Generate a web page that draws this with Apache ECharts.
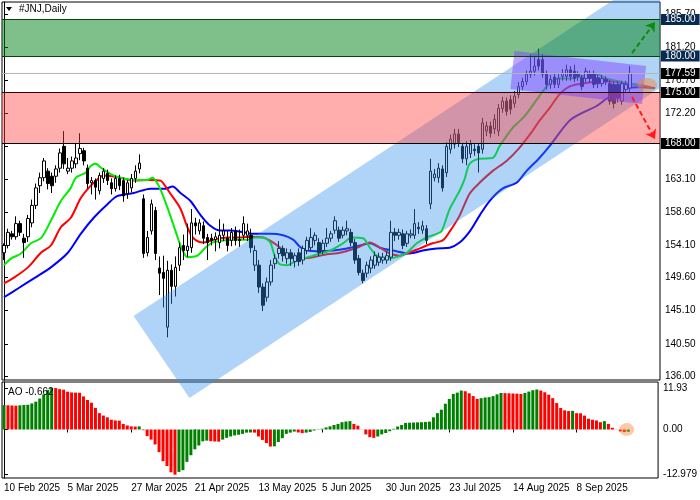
<!DOCTYPE html>
<html><head><meta charset="utf-8">
<script src="https://cdn.jsdelivr.net/npm/echarts@6/dist/echarts.min.js"></script>
<style>html,body{margin:0;padding:0;background:#fff}#c{width:700px;height:500px}</style>
</head><body><div id="c"></div>
<script>
const FONT = "'Liberation Sans',Arial,sans-serif";
const FS = 10;

// ---------- data ----------
const startDate = '2025-02-10';
const holidays = ['2025-02-17','2025-04-18','2025-05-26','2025-06-19','2025-07-04','2025-09-01'];
const slotCount = 165;           // trading-day slots on the time axis (incl. empty future slots)
const labelStep = 16;            // a date label every 16 bars
const lastLabelIndex = 144;

const priceTicks = [136.00,140.50,145.10,149.60,154.10,158.60,163.10,167.60,172.20,176.70,181.20,185.70];
const aoTickValues = [11.93, 0, -12.979];
const aoTickLabels = ['11.93','0.00','-12.979'];
const levelValues = [185.00, 180.00, 177.59, 175.00, 168.00];
const greenZone = [180.00, 185.00];
const redZone = [168.00, 175.00];

// [open, close, low, high]
const candles = [
[153.0,154.0,152.0,154.3],[154.0,155.8,153.6,156.3],[155.6,155.2,154.8,156.0],[155.2,157.0,154.8,158.0],[157.0,155.8,155.3,157.4],
[155.0,154.4,152.3,155.6],[155.2,157.7,154.5,158.2],[157.1,159.5,156.5,160.3],[159.5,161.9,159.0,162.5],[162.2,163.3,161.2,164.0],
[163.3,165.6,162.8,166.0],[164.2,162.5,161.7,164.6],[163.5,162.2,161.2,164.0],[163.5,164.5,162.6,165.0],[164.6,166.7,164.0,167.3],
[167.6,165.2,164.5,169.7],[164.2,164.6,163.8,166.0],[164.6,165.6,164.0,166.2],[165.2,166.0,164.6,168.0],[166.6,167.3,165.7,169.4],
[167.0,165.6,165.0,167.4],[164.6,162.5,161.8,165.1],[162.6,162.9,161.0,163.4],[162.9,162.0,160.3,163.2],[161.5,163.6,161.0,164.0],
[163.2,164.2,162.6,164.6],[163.9,162.9,162.3,164.4],[162.6,161.8,161.0,163.2],[161.8,163.2,161.4,163.6],[163.2,162.2,161.6,163.7],
[162.9,160.8,160.0,163.3],[161.1,162.6,160.4,163.0],[161.9,163.2,161.3,163.8],[163.2,164.2,162.6,165.0],[164.5,165.3,163.9,166.5],
[160.4,152.9,152.3,161.0],[153.0,155.1,152.5,156.0],[156.0,159.7,155.5,160.3],[158.8,152.9,152.0,159.3],[150.9,150.2,147.2,152.5],
[150.3,149.5,145.5,152.6],[142.8,150.6,141.4,151.9],[150.6,148.4,146.0,151.4],[148.4,151.0,147.0,152.5],[151.3,153.7,150.5,154.4],
[154.0,153.3,152.0,155.5],[153.3,153.9,152.4,157.0],[153.7,157.1,153.0,159.0],[157.1,156.7,155.5,157.8],[156.0,157.1,155.5,157.6],
[156.7,155.0,154.2,157.3],[155.1,154.4,152.0,155.6],[155.0,154.7,154.0,155.6],[154.8,155.2,153.2,155.8],[154.4,155.4,153.6,157.6],
[155.4,156.0,154.6,157.0],[155.0,154.0,153.2,156.0],[154.7,155.8,153.9,156.4],[156.0,154.7,154.0,156.6],[154.8,154.7,153.8,156.2],
[155.4,157.0,154.8,158.0],[155.4,156.0,154.6,157.0],[155.4,153.7,153.0,156.3],[151.3,153.3,150.5,154.0],[151.3,148.3,147.5,152.0],
[148.3,145.8,145.0,148.8],[146.9,149.0,146.3,149.6],[149.0,151.3,148.5,152.0],[151.5,152.2,150.8,152.8],[152.9,153.6,152.2,154.6],
[153.6,152.6,151.8,154.0],[152.2,153.0,151.5,153.6],[153.0,152.2,151.2,153.5],[151.8,152.6,151.0,153.0],[153.0,151.8,151.2,153.6],
[152.0,153.6,151.4,154.0],[153.3,154.7,152.8,155.2],[153.7,155.1,153.2,156.4],[154.7,155.4,154.0,155.8],[154.4,153.0,152.5,155.0],
[153.3,154.3,152.8,154.8],[154.3,155.0,153.8,156.4],[155.0,155.6,154.5,156.0],[156.1,157.4,155.6,158.0],[156.1,155.0,154.5,156.6],
[155.4,156.1,155.0,156.6],[156.0,156.3,155.4,157.4],[155.8,154.4,153.9,156.3],[154.4,152.0,151.5,154.9],[152.2,150.3,149.9,152.7],
[150.2,149.2,148.8,150.7],[150.2,151.3,149.6,151.8],[150.9,152.0,150.2,152.5],[151.3,152.6,150.8,153.2],[151.7,152.4,151.2,153.0],
[152.0,152.4,151.5,153.0],[152.0,152.6,151.5,153.2],[152.4,155.8,151.9,157.4],[155.8,155.4,154.6,156.4],[155.4,155.8,154.8,156.3],
[155.6,154.0,153.5,156.2],[154.3,155.6,153.8,156.0],[155.4,155.6,155.0,156.2],[155.4,157.0,154.9,159.0],[156.5,156.3,155.6,157.2],
[156.1,156.7,155.6,157.4],[156.3,154.7,154.2,156.8],[159.7,164.2,159.0,165.9],[163.3,163.8,162.8,164.5],[163.3,164.6,162.6,165.3],
[164.5,161.9,161.4,165.0],[164.0,167.6,163.4,168.2],[167.2,168.6,166.6,169.2],[167.9,169.3,167.3,170.0],[169.3,168.1,167.5,170.0],
[167.6,165.9,165.3,168.0],[165.9,167.6,165.0,168.3],[166.6,167.9,166.0,168.5],[167.2,167.0,166.3,167.9],[167.6,166.7,164.0,168.0],
[167.2,170.8,166.6,171.5],[169.7,170.4,169.0,171.0],[170.4,169.4,168.8,171.0],[170.0,171.3,169.3,172.0],[169.7,172.8,169.0,173.4],
[172.8,173.8,172.2,174.4],[173.8,172.4,171.8,174.3],[174.0,172.7,172.0,174.6],[173.5,174.5,172.9,175.2],[174.7,175.8,174.2,176.4],
[175.8,176.5,175.3,177.0],[176.5,177.5,176.0,178.0],[177.5,177.9,177.0,180.2],[177.9,178.6,177.3,180.0],[179.5,178.6,178.0,181.0],
[179.5,177.5,177.0,180.2],[177.5,176.1,175.4,178.0],[176.1,176.8,175.5,177.4],[177.1,176.1,175.6,177.6],[176.1,176.9,175.6,177.5],
[177.2,177.6,176.6,178.2],[177.2,178.1,176.6,178.8],[178.1,177.2,176.6,178.6],[177.9,176.9,176.4,178.8],[177.5,177.2,176.6,177.9],
[177.0,175.8,175.3,177.4],[176.9,177.9,176.4,178.4],[177.6,176.9,176.3,178.0],[177.6,176.1,175.6,178.0],[177.0,176.2,175.6,177.4],
[176.2,176.9,175.8,177.4],[176.8,176.5,176.0,177.2],[176.2,173.8,173.3,176.7],[176.1,173.5,172.8,176.5],[176.1,174.2,173.6,176.6],
[173.8,176.2,173.3,176.6],[175.4,176.1,174.9,176.6],[175.6,177.6,175.1,178.6]
];

// Alligator lines: [bar position, price]
const jawLine = [[0,146.9],[3.5,148.1],[7.5,149.5],[11.75,151.0],[16,153.0],[19.25,155.6],[22.5,157.8],[26,159.7],[28.5,160.8],[32.5,161.2],[36.75,161.8],[40.5,161.8],[42.25,162.1],[44.25,161.2],[46.75,160.1],[49.25,158.2],[51.75,156.7],[54.25,156.05],[56.75,156.05],[59.25,155.9],[62.5,155.6],[66.75,155.6],[70,155.4],[72.5,154.8],[74.25,153.8],[76,153.3],[79.25,153.2],[82.5,153.3],[86,153.6],[89.25,154.0],[91.75,154.3],[94.25,153.7],[97.5,153.3],[101.75,152.9],[105,153.3],[108.5,153.6],[111.75,153.7],[114.25,154.4],[116.75,155.9],[119.25,158.1],[121.75,160.1],[125,161.8],[128.5,162.6],[131,164.2],[134.25,166.0],[136.75,167.6],[141.75,171.1],[145,172.2],[148.5,173.1],[151,174.1],[153.5,174.9],[156,175.6],[159.25,175.7],[163.25,175.6]];
const teethLine = [[0,148.8],[2.5,149.6],[6,151.0],[9.25,153.0],[11.75,154.0],[14.25,156.5],[16.75,157.8],[19.25,160.5],[21.25,161.9],[23.5,163.1],[25,163.6],[29.25,163.3],[32.5,162.9],[36.75,163.0],[39.25,162.9],[40.5,162.1],[41.75,161.1],[44.25,159.05],[46,156.5],[47.5,155.0],[50,154.4],[52.5,154.8],[56,155.1],[59.25,155.1],[62.5,155.2],[65,155.1],[67.5,154.4],[69.25,153.7],[71.25,152.5],[73.5,152.2],[77.5,152.4],[81,152.8],[84.25,153.0],[88.5,153.7],[91.75,154.4],[94.25,153.7],[96.75,152.9],[99.25,152.6],[101,152.9],[104.25,153.6],[107.5,154.3],[110,154.7],[111.75,155.9],[114.25,158.1],[116.75,161.1],[119.25,162.6],[122.5,164.2],[126,165.6],[129.25,167.4],[132.5,169.7],[134.25,171.1],[136.75,172.8],[139.25,174.7],[141.75,175.8],[145,176.2],[149.25,176.5],[152.5,176.5],[156,176.2],[159.25,176.0],[162.25,175.7]];
const lipsLine = [[0,151.3],[1.75,152.2],[4.25,152.9],[6.75,154.3],[9.25,155.0],[11.75,157.4],[14.25,160.1],[16.75,161.9],[18,163.3],[20.5,164.0],[21.75,164.9],[23,165.2],[24.25,164.7],[26.75,163.8],[29.25,163.3],[32.5,163.0],[36,163.0],[37.25,163.3],[38.5,162.5],[39.75,161.0],[41.5,158.4],[43.25,155.6],[44.5,153.7],[46,152.4],[48.5,152.6],[50.5,153.7],[52.25,154.4],[55,154.7],[58.5,154.8],[61,154.8],[63,155.1],[65,155.1],[66.75,154.4],[68,152.4],[69.25,151.4],[71,151.3],[73.5,152.0],[75,152.2],[77.5,152.6],[81.75,153.3],[85,154.3],[87.25,155.1],[90,155.0],[91.75,153.7],[93.5,152.6],[96,152.2],[98.5,152.4],[101,153.0],[103.5,154.3],[106,155.1],[108.5,155.6],[109.75,156.0],[111.75,159.0],[114.25,161.5],[115.5,163.1],[116.75,165.2],[119.25,165.9],[122.5,166.0],[124.25,167.6],[127.5,170.1],[130.5,171.7],[134.25,174.5],[136.75,176.2],[139.25,176.9],[141.75,176.9],[145,177.2],[148.5,177.5],[151,176.9],[154.25,176.5],[156.75,176.2],[160,176.0]];

// Awesome Oscillator
const ao = [7.0,6.95,6.9,6.85,6.95,7.05,7.1,7.5,8.0,8.9,10.1,11.4,11.93,
11.9,11.6,11.45,10.85,10.65,10.6,10.55,9.5,8.5,7.7,6.2,4.7,4.0,3.5,2.8,2.6,2.55,1.6,1.15,0.9,0.85,
0.9,
-0.2,-1.9,-2.9,-4.3,-6.5,-9.1,-10.5,-12.3,-12.979,
-12.2,-11.7,-9.3,-7.4,-5.7,-4.6,-3.4,-3.2,
-3.35,-3.45,-3.5,
-2.9,-2.4,-2.0,-1.7,-1.5,-1.25,-0.9,-0.85,
-0.9,-2.0,-3.0,-3.9,-4.9,
-4.85,-3.6,-2.5,-1.25,-0.9,-0.6,
-0.85,-1.05,
-0.9,-0.7,-0.3,-0.1,0.2,0.6,0.9,1.3,1.6,2.1,2.3,2.4,
1.6,1.1,-0.05,-1.4,-2.2,-2.4,
-2.0,-1.4,-1.0,-0.5,0.2,0.85,1.3,1.9,1.95,2.0,2.05,2.1,2.15,2.25,3.5,4.7,5.7,7.4,8.8,10.2,10.6,11.2,
11.0,10.4,9.6,8.8,
9.0,9.2,9.3,9.6,10.1,10.5,
10.45,10.4,10.35,10.3,10.2,
10.5,10.9,11.3,11.5,
11.2,10.7,10.0,9.0,7.6,6.2,5.5,5.3,
5.35,
4.7,4.65,4.0,3.1,2.8,2.6,2.1,
2.4,
1.6,0.5,-0.05,-0.55,-0.75,
-0.662];

// drawn objects, in [bar position, price] units
const channelCorners = [[32.5,144.32],[46.5,133.08],[221.5,196.2],[207.5,207.4]];
const flagCorners = [[128,180.67],[161,178.62],[160,173.40],[127,175.46]];
const upArrow = [[157.5,180.4],[163.25,184.65]];
const downArrow = [[157.5,174.36],[163.25,168.6]];
const priceEllipseCenter = [161.3,176.0];
const aoEllipseCenter = [156.6,0];

// ---------- helpers ----------
function buildDates(start, n, hol) {
  const M = ['Jan','Feb','Mar','Apr','May','Jun','Jul','Aug','Sep','Oct','Nov','Dec'];
  const out = []; const d = new Date(start + 'T00:00:00Z');
  while (out.length < n) {
    const wd = d.getUTCDay(); const iso = d.toISOString().slice(0,10);
    if (wd !== 0 && wd !== 6 && hol.indexOf(iso) < 0) out.push(d.getUTCDate() + ' ' + M[d.getUTCMonth()] + ' ' + d.getUTCFullYear());
    d.setUTCDate(d.getUTCDate() + 1);
  }
  return out;
}
const dates = buildDates(startDate, slotCount, holidays);
const showLabel = (idx) => idx % labelStep === 0 && idx <= lastLabelIndex;

function clipRight(pts, xr) {
  const out = [];
  for (let k = 0; k < pts.length; k++) {
    const a = pts[k], b = pts[(k + 1) % pts.length];
    const ina = a[0] <= xr, inb = b[0] <= xr;
    if (ina) out.push(a);
    if (ina !== inb) { const t = (xr - a[0]) / (b[0] - a[0]); out.push([xr, a[1] + t * (b[1] - a[1])]); }
  }
  return out;
}

const levelStyles = [
  {line:'#0b3f0b', box:'#072a4e'},
  {line:'#0b3f0b', box:'#072a4e'},
  {line:'#b4b4b4', box:'#000000'},
  {line:'#3a0000', box:'#000000'},
  {line:'#000000', box:'#000000'}
];
const zoneFills = ['rgba(0,128,20,0.5)', 'rgba(255,60,60,0.42)'];

const chart = echarts.init(document.getElementById('c'), null, {renderer:'canvas'});
const option = {
  animation: false,
  backgroundColor: '#fff',
  textStyle: {fontFamily: FONT},
  grid: [
    {left: 2, right: 40, top: 2, height: 378, show: true, borderColor: '#000', borderWidth: 1, backgroundColor: 'transparent'},
    {left: 2, right: 40, top: 382, height: 96, show: true, borderColor: '#000', borderWidth: 1, backgroundColor: 'transparent'}
  ],
  xAxis: [
    {type: 'category', gridIndex: 0, data: dates, show: false, boundaryGap: true},
    {type: 'value', gridIndex: 0, min: -0.5, max: slotCount - 0.5, show: false},
    {type: 'category', gridIndex: 1, data: dates, boundaryGap: true,
      axisLine: {show: false},
      axisTick: {show: true, alignWithLabel: true, interval: showLabel, length: 3, lineStyle: {color: '#000'}},
      axisLabel: {interval: showLabel, align: 'left', color: '#000', fontFamily: FONT, fontSize: FS, margin: 5},
      splitLine: {show: false}},
    {type: 'value', gridIndex: 1, min: -0.5, max: slotCount - 0.5, show: false}
  ],
  yAxis: [
    {type: 'value', gridIndex: 0, position: 'right', min: 135.55, max: 187.40,
      axisLine: {show: true, lineStyle: {color: '#000'}},
      axisTick: {show: true, length: 4, customValues: priceTicks, lineStyle: {color: '#000'}},
      axisLabel: {customValues: priceTicks, formatter: v => v.toFixed(2), color: '#000', fontFamily: FONT, fontSize: FS, margin: 5},
      splitLine: {show: false}},
    {type: 'value', gridIndex: 1, position: 'right', min: -13.94, max: 13.65,
      axisLine: {show: true, lineStyle: {color: '#000'}},
      axisTick: {show: true, length: 4, customValues: aoTickValues, lineStyle: {color: '#000'}},
      axisLabel: {customValues: aoTickValues, formatter: v => { const k = aoTickValues.findIndex(t => Math.abs(t - v) < 1e-6); return k >= 0 ? aoTickLabels[k] : ''; }, color: '#000', fontFamily: FONT, fontSize: FS, margin: 5},
      splitLine: {show: false}}
  ],
  graphic: [
    {type: 'polygon', shape: {points: [[6,7],[12,7],[9,11]]}, style: {fill: '#000'}, z: 100},
    {type: 'text', left: 19, top: 4, style: {text: '#JNJ,Daily', fill: '#000', font: FS + 'px ' + FONT}, z: 100},
    {type: 'text', left: 8, top: 387, style: {text: 'AO ' + ao[ao.length - 1], fill: '#000', font: FS + 'px ' + FONT}, z: 100}
  ],
  series: [
    {type: 'candlestick', name: 'JNJ', xAxisIndex: 0, yAxisIndex: 0, data: candles, barWidth: 3, z: 2,
      itemStyle: {color: '#fff', color0: '#000', borderColor: '#000', borderColor0: '#000', borderWidth: 1},
      markLine: {silent: true, symbol: 'none', animation: false,
        data: levelValues.map((v, k) => ({yAxis: v,
          lineStyle: {color: levelStyles[k].line, width: 1, type: 'solid'},
          label: {show: true, position: 'end', distance: 1, formatter: v.toFixed(2), color: '#fff',
            backgroundColor: levelStyles[k].box, padding: [1, 4, 0, 4], fontFamily: FONT, fontSize: FS, lineHeight: 10}}))}},
    {type: 'line', name: 'Jaw', xAxisIndex: 1, yAxisIndex: 0, data: jawLine, showSymbol: false, smooth: 0.3, z: 2,
      lineStyle: {color: '#0000ff', width: 2}},
    {type: 'line', name: 'Teeth', xAxisIndex: 1, yAxisIndex: 0, data: teethLine, showSymbol: false, smooth: 0.3, z: 2,
      lineStyle: {color: '#ff0000', width: 2}},
    {type: 'line', name: 'Lips', xAxisIndex: 1, yAxisIndex: 0, data: lipsLine, showSymbol: false, smooth: 0.3, z: 2,
      lineStyle: {color: '#00ee00', width: 2},
      markLine: {silent: true, animation: false, symbol: ['none', 'arrow'], symbolSize: 9, label: {show: false},
        data: [
          [{coord: upArrow[0], lineStyle: {color: '#0c8a0c', width: 2, type: [5, 3]}}, {coord: upArrow[1]}],
          [{coord: downArrow[0], lineStyle: {color: '#ff1a1a', width: 2, type: [5, 3]}}, {coord: downArrow[1]}]
        ]}},
    {type: 'custom', name: 'channel', xAxisIndex: 1, yAxisIndex: 0, z: 3, silent: true, clip: false, data: [[0, 150]],
      renderItem: (params, api) => {
        const pts = channelCorners.map(c => api.coord(c));
        const xr = params.coordSys.x + params.coordSys.width;
        return {type: 'polygon', shape: {points: clipRight(pts, xr)}, style: {fill: 'rgba(51,143,235,0.39)'}};
      }},
    {type: 'custom', name: 'zones', xAxisIndex: 1, yAxisIndex: 0, z: 3, silent: true, clip: false,
      data: [[0, greenZone[0], greenZone[1]], [0, redZone[0], redZone[1]]],
      renderItem: (params, api) => {
        const cs = params.coordSys;
        const yTop = api.coord([0, api.value(2)])[1];
        const yBot = api.coord([0, api.value(1)])[1];
        return {type: 'rect', shape: {x: cs.x, y: yTop, width: cs.width, height: yBot - yTop}, style: {fill: zoneFills[params.dataIndex]}};
      }},
    {type: 'custom', name: 'flag', xAxisIndex: 1, yAxisIndex: 0, z: 3, silent: true, clip: false, data: [[0, 150]],
      renderItem: (params, api) => ({type: 'polygon', shape: {points: flagCorners.map(c => api.coord(c))}, style: {fill: 'rgba(128,64,255,0.47)'}})},
    {type: 'custom', name: 'mark1', xAxisIndex: 1, yAxisIndex: 0, z: 3, silent: true, clip: false, data: [priceEllipseCenter],
      renderItem: (params, api) => {
        const p = api.coord([api.value(0), api.value(1)]);
        return {type: 'circle', x: p[0], y: p[1], scaleY: 0.7, shape: {cx: 0, cy: 0, r: 10}, style: {fill: 'rgba(240,135,60,0.5)'}};
      }},
    {type: 'bar', name: 'AO', xAxisIndex: 2, yAxisIndex: 1, data: ao, barWidth: 3, z: 2,
      itemStyle: {color: p => (p.dataIndex === 0 || ao[p.dataIndex] >= ao[p.dataIndex - 1]) ? '#008000' : '#ff0000'}},
    {type: 'custom', name: 'mark2', xAxisIndex: 3, yAxisIndex: 1, z: 3, silent: true, clip: false, data: [aoEllipseCenter],
      renderItem: (params, api) => {
        const p = api.coord([api.value(0), api.value(1)]);
        return {type: 'circle', x: p[0], y: p[1], scaleY: 0.85, shape: {cx: 0, cy: 0, r: 7.5}, style: {fill: 'rgba(245,140,60,0.45)'}};
      }}
  ]
};
chart.setOption(option);
</script>
</body></html>
